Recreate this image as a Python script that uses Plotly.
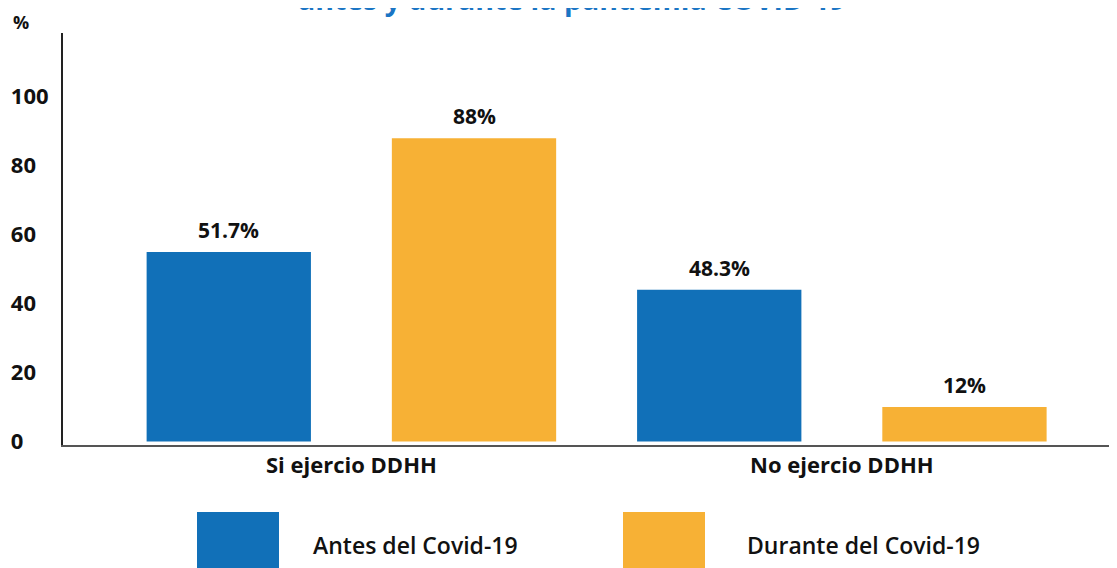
import plotly.graph_objects as go

# ── Data ─────────────────────────────────────────────────────────────────────
categories = ["Si ejercio DDHH", "No ejercio DDHH"]
antes_values = [55, 44]          # bar heights as drawn
durante_values = [88, 10]
antes_labels = ["51.7%", "48.3%"]
durante_labels = ["88%", "12%"]
series_names = ["Antes del Covid-19", "Durante del Covid-19"]
y_ticks = [0, 20, 40, 60, 80, 100]

# ── Style ────────────────────────────────────────────────────────────────────
BLUE = "#1170B8"
ORANGE = "#F7B135"
TITLE_BLUE = "#1A75C4"
FONT = "Open Sans"
BARGAP = 0.0
GROUPGAP = 0.33

# page offset (body margin) and plot area, in page pixels
OFF = 8
FIG_W, FIG_H = 1117 - OFF, 568 - OFF
L, T, W, H = 63 - OFF, 33 - OFF, 1054, 412


def px_x(p):
    return (p - OFF - L) / W


def px_y(p):
    return (T + H - (p - OFF)) / H


fig = go.Figure()
fig.add_trace(go.Bar(x=categories, y=antes_values, name=series_names[0],
                     marker=dict(color=BLUE, line=dict(width=0))))
fig.add_trace(go.Bar(x=categories, y=durante_values, name=series_names[1],
                     marker=dict(color=ORANGE, line=dict(width=0))))

# value labels above bars
offset = (1 - BARGAP) / 4
annotations = []
for i in range(len(categories)):
    for vals, labs, sign in [(antes_values, antes_labels, -1),
                             (durante_values, durante_labels, 1)]:
        annotations.append(dict(
            x=i + sign * offset, y=vals[i], xref="x", yref="y",
            text=labs[i], showarrow=False, yanchor="bottom", yshift=6,
            font=dict(family=FONT, size=21, color="#111", weight=700)))

# cropped title + unit label
annotations.append(dict(
    x=px_x(572), y=px_y(20), xref="paper", yref="paper",
    text="antes y durante la pandemia COVID-19", showarrow=False,
    xanchor="center", yanchor="bottom",
    font=dict(family=FONT, size=28.5, color=TITLE_BLUE, weight=700)))
annotations.append(dict(
    x=px_x(21), y=px_y(22), xref="paper", yref="paper", text="%",
    showarrow=False, xanchor="center", yanchor="middle",
    font=dict(family=FONT, size=18, color="#111", weight=700)))

# custom legend
shapes = []
for name, color, sx, tx in [(series_names[0], BLUE, 197, 311),
                            (series_names[1], ORANGE, 623, 745)]:
    shapes.append(dict(type="rect", xref="paper", yref="paper",
                       x0=px_x(sx), x1=px_x(sx + 82), y0=px_y(512), y1=px_y(580),
                       fillcolor=color, line=dict(width=0)))
    annotations.append(dict(
        x=px_x(tx), y=px_y(545), xref="paper", yref="paper", text=name,
        showarrow=False, xanchor="left", yanchor="middle",
        font=dict(family=FONT, size=23, color="#111", weight=600)))

# left-aligned tick labels via figure-space padding
width = max(len(str(t)) for t in y_ticks)
tick_text = [str(t) + "\u2007" * (width - len(str(t))) for t in y_ticks]

fig.update_layout(
    width=FIG_W, height=FIG_H,
    margin=dict(l=L, r=FIG_W - L - W, t=T, b=FIG_H - T - H),
    plot_bgcolor="white", paper_bgcolor="white",
    barmode="group", bargap=BARGAP, bargroupgap=GROUPGAP,
    showlegend=False,
    annotations=annotations, shapes=shapes,
    font=dict(family=FONT, color="#111"),
)
fig.update_xaxes(
    showline=True, linecolor="#555", linewidth=2, showgrid=False,
    ticks="", range=[-0.588, 1.561],
    tickfont=dict(family=FONT, size=22, color="#111", weight=700),
)
fig.update_yaxes(
    showline=True, linecolor="#222", linewidth=2, showgrid=False,
    zeroline=False, ticks="", range=[-1, 118.5],
    tickvals=y_ticks, ticktext=tick_text, ticklabelstandoff=8,
    tickfont=dict(family=FONT, size=22, color="#111", weight=700),
)

fig.write_html("out.html")
